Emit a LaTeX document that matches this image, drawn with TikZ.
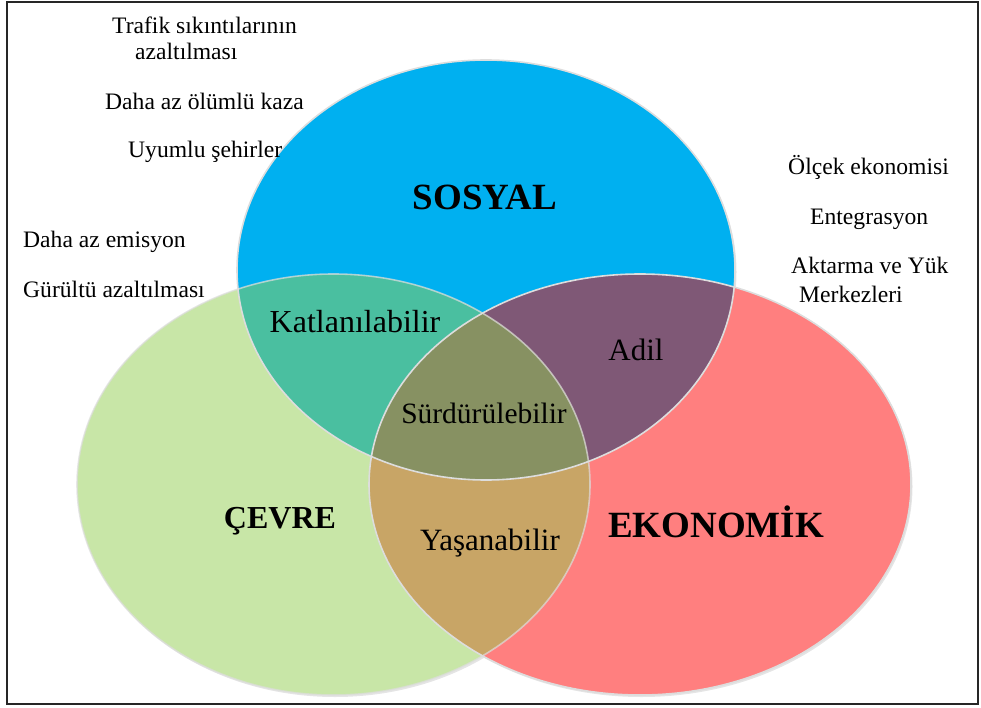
\documentclass[tikz,border=0pt]{standalone}
\usepackage{fontspec}
\setmainfont{Liberation Serif}
\definecolor{sosyalc}{HTML}{00B0F0}
\definecolor{cevrec}{HTML}{C8E6A7}
\definecolor{ekoc}{HTML}{FF7F7F}
\definecolor{katc}{HTML}{4ABFA0}
\definecolor{adilc}{HTML}{7F5876}
\definecolor{yasc}{HTML}{C8A566}
\definecolor{surc}{HTML}{879162}
\definecolor{rimc}{HTML}{DDDDDD}
\begin{document}
\begin{tikzpicture}[x=1pt,y=-1pt,
  title/.style={font=\fontsize{#1}{#1}\selectfont\bfseries, inner sep=0pt},
  region/.style={font=\fontsize{#1}{#1}\selectfont, inner sep=0pt},
  side/.style={font=\fontsize{23.6}{27}\selectfont, inner sep=0pt, anchor=base west},
  rim/.style={draw=rimc, line width=1.6pt}]
\useasboundingbox (0,0) rectangle (981,708);
% the three sets
\def\sosyalset{(486,270) ellipse [x radius=249, y radius=210]}
\def\cevreset{(333.5,484.5) ellipse [x radius=256.5, y radius=210.5]}
\def\ekoset{(640,484.5) ellipse [x radius=271, y radius=210.5]}
% soft drop shadow
\fill[black!10] ([shift={(1.5,2)}]486,270) ellipse [x radius=249, y radius=210];
\fill[black!10] ([shift={(1.5,2)}]333.5,484.5) ellipse [x radius=256.5, y radius=210.5];
\fill[black!10] ([shift={(1.5,2)}]640,484.5) ellipse [x radius=271, y radius=210.5];
% base fills
\fill[sosyalc] \sosyalset;
\fill[cevrec] \cevreset;
\fill[ekoc] \ekoset;
% pairwise overlaps
\begin{scope}\clip \sosyalset; \fill[katc] \cevreset;\end{scope}
\begin{scope}\clip \sosyalset; \fill[adilc] \ekoset;\end{scope}
\begin{scope}\clip \cevreset; \fill[yasc] \ekoset;\end{scope}
% common core
\begin{scope}\clip \sosyalset; \clip \cevreset; \fill[surc] \ekoset;\end{scope}
% outlines
\draw[rim] \sosyalset;
\draw[rim, draw opacity=0.7] \cevreset;
\draw[rim] \ekoset;
% frame
\draw[line width=2pt, black!85] (7,2) rectangle (978,704);
% set titles
\node[title=37] (sosyal) at (485,197) {SOSYAL};
\node[title=32] (cevre) at (280,521) {ÇEVRE};
\node[title=37] (ekonomik) at (716,522) {EKONOMİK};
% overlap labels
\node[region=32] (katl) at (355,322) {Katlanılabilir};
\node[region=31] (adil) at (636,350) {Adil};
\node[region=29.5] (surd) at (484,413) {Sürdürülebilir};
\node[region=31] (yasa) at (490,543) {Yaşanabilir};
% social goals
\node[side] (trafik1) at (112,34) {Trafik sıkıntılarının};
\node[side] (trafik2) at (135,60) {azaltılması};
\node[side] (kaza) at (105,110) {Daha az ölümlü kaza};
\node[side] (uyum) at (128,158) {Uyumlu şehirler};
% environmental goals
\node[side] (emisyon) at (23,248) {Daha az emisyon};
\node[side] (gurultu) at (23,298) {Gürültü azaltılması};
% economic goals
\node[side] (olcek) at (788,175) {Ölçek ekonomisi};
\node[side] (enteg) at (810,225) {Entegrasyon};
\node[side] (aktarma1) at (791,273) {Aktarma ve Yük};
\node[side] (aktarma2) at (799,302) {Merkezleri};
\end{tikzpicture}
\end{document}
